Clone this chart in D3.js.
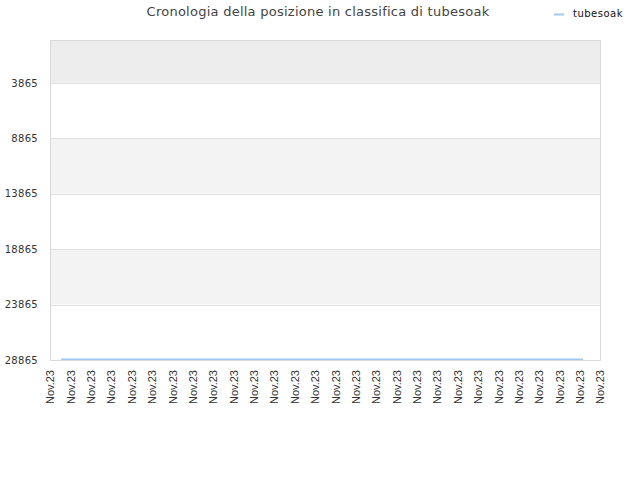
<!DOCTYPE html>
<html>
<head>
<meta charset="utf-8">
<script src="https://cdn.jsdelivr.net/npm/d3@7"></script>
<style>
  html, body { margin: 0; padding: 0; background: #fff; }
  svg { display: block; }
</style>
</head>
<body>
<svg id="chart" width="640" height="480"></svg>
<script>
// ---- data ----
const title = "Cronologia della posizione in classifica di tubesoak";
const seriesName = "tubesoak";
const tickDates = ["2023-11-01","2023-11-02","2023-11-03","2023-11-04","2023-11-05","2023-11-06","2023-11-07",
  "2023-11-08","2023-11-09","2023-11-10","2023-11-11","2023-11-12","2023-11-13","2023-11-14",
  "2023-11-15","2023-11-16","2023-11-17","2023-11-18","2023-11-19","2023-11-20","2023-11-21",
  "2023-11-22","2023-11-23","2023-11-24","2023-11-25","2023-11-26","2023-11-27","2023-11-28"];
const tickLabel = "Nov.23";
const yTicks = [3865, 8865, 13865, 18865, 23865, 28865];
const yDomain = [0, 28865];
const pointDates = ["2023-11-01T13:00", "2023-11-27T04:00"];
const pointRanks = [28800, 28800];

// ---- layout ----
const W = 640, H = 480;
const m = { left: 50, right: 40, top: 40, bottom: 120 };
const svg = d3.select("#chart");
const parse = d3.timeParse("%Y-%m-%d");
const parseT = d3.timeParse("%Y-%m-%dT%H:%M");
const ticks = tickDates.map(parse);

const x = d3.scaleTime().domain([ticks[0], ticks[ticks.length - 1]]).range([m.left, W - m.right]);
const y = d3.scaleLinear().domain(yDomain).range([m.top, H - m.bottom]);

// bands
const bandEdges = [yDomain[0], ...yTicks];
const bands = d3.pairs(bandEdges);
svg.append("g").selectAll("rect").data(bands).join("rect")
  .attr("x", m.left).attr("width", W - m.right - m.left)
  .attr("y", d => y(d[0])).attr("height", d => y(d[1]) - y(d[0]))
  .attr("fill", (d, i) => i === 0 ? "#ededed" : (i % 2 === 0 ? "#f3f3f3" : "#ffffff"));

// grid lines
svg.append("g").selectAll("line").data(yTicks.slice(0, -1)).join("line")
  .attr("x1", m.left).attr("x2", W - m.right)
  .attr("y1", d => Math.round(y(d)) + 0.5).attr("y2", d => Math.round(y(d)) + 0.5)
  .attr("stroke", "#e0e0e0").attr("stroke-width", 1);

// frame
svg.append("rect")
  .attr("x", m.left + 0.5).attr("y", m.top + 0.5)
  .attr("width", W - m.right - m.left).attr("height", H - m.bottom - m.top)
  .attr("fill", "none").attr("stroke", "#d9d9d9").attr("stroke-width", 1);

// y axis
const yAxis = d3.axisLeft(y).tickValues(yTicks).tickSize(0).tickPadding(12).tickFormat(d => String(d));
const gy = svg.append("g").attr("transform", `translate(${m.left},0)`).call(yAxis);
gy.select(".domain").remove();
gy.selectAll("text").attr("font-family", "DejaVu Sans, sans-serif").attr("font-size", 10)
  .attr("letter-spacing", 0.3).attr("fill", "#333");

// x axis
const xAxis = d3.axisBottom(x).tickValues(ticks).tickSize(0).tickFormat(() => tickLabel);
const gx = svg.append("g").attr("transform", `translate(0,${H - m.bottom})`).call(xAxis);
gx.select(".domain").remove();
gx.selectAll("text")
  .attr("font-family", "Liberation Sans, Arial, sans-serif").attr("font-size", 11).attr("fill", "#333")
  .attr("text-anchor", "end")
  .attr("transform", "rotate(-90)")
  .attr("x", -10).attr("y", 0).attr("dy", "0.35em");

// line
const pts = pointDates.map((d, i) => ({ date: parseT(d), rank: pointRanks[i] }));
svg.append("path").datum(pts)
  .attr("fill", "none").attr("stroke", "#a0c8f0").attr("stroke-width", 1.5)
  .attr("d", d3.line().x(d => x(d.date)).y(d => y(d.rank)));

// title
svg.append("text").attr("x", 318).attr("y", 16).attr("text-anchor", "middle")
  .attr("font-family", "DejaVu Sans, sans-serif").attr("font-size", 13).attr("letter-spacing", 0.25).attr("fill", "#444")
  .text(title);

// legend
svg.append("line").attr("x1", 554).attr("x2", 564).attr("y1", 14.5).attr("y2", 14.5)
  .attr("stroke", "#a0c8f0").attr("stroke-width", 2);
svg.append("text").attr("x", 573).attr("y", 16.5)
  .attr("font-family", "DejaVu Sans, sans-serif").attr("font-size", 10).attr("letter-spacing", 0.5).attr("fill", "#111")
  .text(seriesName);
</script>
</body>
</html>
